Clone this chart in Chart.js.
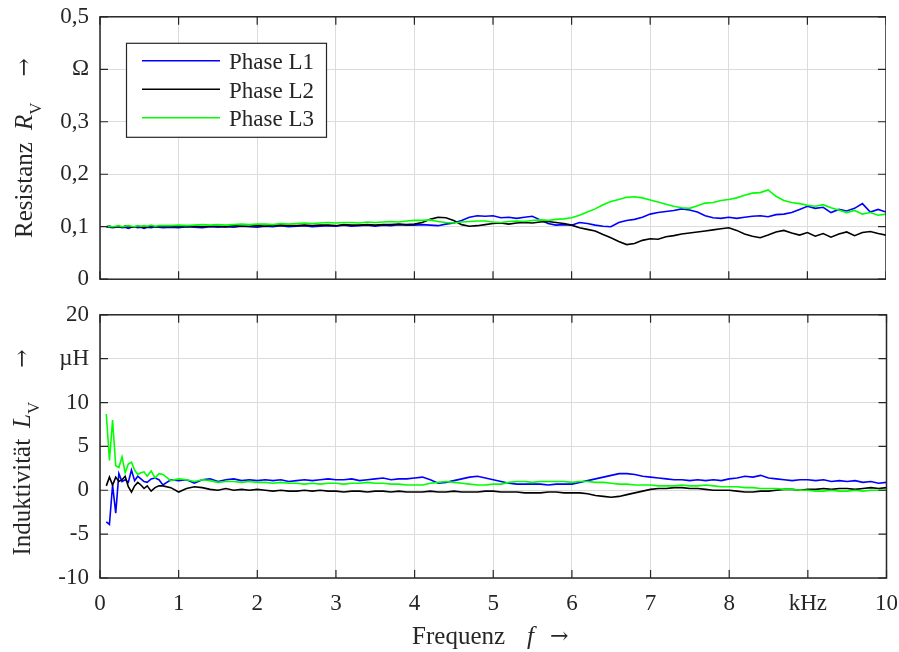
<!DOCTYPE html>
<html>
<head>
<meta charset="utf-8">
<title>Resistanz und Induktivität</title>
<script src="https://cdn.jsdelivr.net/npm/chart.js@4.4.0/dist/chart.umd.min.js"></script>
<style>
  html, body { margin: 0; padding: 0; background: #fff; overflow: hidden; }
  #wrap { position: relative; width: 899px; height: 652px; overflow: hidden; }
  #wrap canvas { position: absolute; left: 0; top: 0; }
</style>
</head>
<body>
<div id="wrap">
  <canvas id="resChart" width="899" height="300"></canvas>
  <canvas id="indChart" width="899" height="352"></canvas>
</div>
<script>
// --- Data ---
const freq = [
  0.08, 0.12, 0.16, 0.2, 0.24, 0.28, 0.32, 0.36, 0.4, 0.44, 0.48, 0.52, 0.56, 0.6, 0.65, 0.7, 0.75, 0.8,
  0.9, 1.0, 1.1, 1.2, 1.3, 1.4, 1.5, 1.6, 1.7, 1.8,
  1.9, 2.0, 2.1, 2.2, 2.3, 2.4, 2.5, 2.6, 2.7, 2.8,
  2.9, 3.0, 3.1, 3.2, 3.3, 3.4, 3.5, 3.6, 3.7, 3.8,
  3.9, 4.0, 4.1, 4.2, 4.3, 4.4, 4.5, 4.6, 4.7, 4.8,
  4.9, 5.0, 5.1, 5.2, 5.3, 5.4, 5.5, 5.6, 5.7, 5.8,
  5.9, 6.0, 6.1, 6.2, 6.3, 6.4, 6.5, 6.6, 6.7, 6.8,
  6.9, 7.0, 7.1, 7.2, 7.3, 7.4, 7.5, 7.6, 7.7, 7.8,
  7.9, 8.0, 8.1, 8.2, 8.3, 8.4, 8.5, 8.6, 8.7, 8.8,
  8.9, 9.0, 9.1, 9.2, 9.3, 9.4, 9.5, 9.6, 9.7, 9.8, 9.9, 10.0
];

// Resistanz R_V in Ohm
const resL1 = [
  0.100, 0.099, 0.098, 0.099, 0.100, 0.098, 0.099, 0.097, 0.099, 0.100, 0.098, 0.099, 0.097, 0.099, 0.098, 0.100, 0.099, 0.098,
  0.099, 0.098, 0.100, 0.099, 0.098, 0.100, 0.099, 0.100, 0.099, 0.101,
  0.100, 0.099, 0.101, 0.100, 0.102, 0.100, 0.101, 0.102, 0.100, 0.101,
  0.102, 0.101, 0.103, 0.101, 0.102, 0.103, 0.101, 0.103, 0.102, 0.104,
  0.103, 0.103, 0.104, 0.103, 0.102, 0.105, 0.107, 0.112, 0.118, 0.121,
  0.120, 0.121, 0.117, 0.118, 0.116, 0.118, 0.120, 0.113, 0.106, 0.103,
  0.104, 0.103, 0.108, 0.106, 0.103, 0.101, 0.100, 0.108, 0.112, 0.114,
  0.118, 0.124, 0.127, 0.129, 0.131, 0.134, 0.132, 0.128, 0.121, 0.117,
  0.116, 0.118, 0.116, 0.118, 0.120, 0.121, 0.119, 0.123, 0.124, 0.127,
  0.133, 0.139, 0.135, 0.137, 0.127, 0.133, 0.130, 0.135, 0.144, 0.128, 0.133, 0.128
];
const resL2 = [
  0.100, 0.101, 0.099, 0.100, 0.100, 0.099, 0.101, 0.100, 0.099, 0.100, 0.101, 0.100, 0.099, 0.100, 0.101, 0.100, 0.100, 0.101,
  0.100, 0.101, 0.100, 0.101, 0.100, 0.101, 0.101, 0.100, 0.102, 0.101,
  0.101, 0.102, 0.101, 0.102, 0.103, 0.102, 0.102, 0.103, 0.102, 0.103,
  0.103, 0.102, 0.104, 0.103, 0.103, 0.104, 0.103, 0.104, 0.104, 0.105,
  0.104, 0.105, 0.108, 0.114, 0.118, 0.117, 0.112, 0.104, 0.101, 0.102,
  0.104, 0.106, 0.107, 0.105, 0.107, 0.108, 0.107, 0.109, 0.110, 0.108,
  0.106, 0.103, 0.098, 0.095, 0.092, 0.085, 0.079, 0.072, 0.066, 0.068,
  0.074, 0.077, 0.076, 0.081, 0.083, 0.086, 0.088, 0.090, 0.092, 0.094,
  0.096, 0.098, 0.093, 0.086, 0.082, 0.079, 0.084, 0.090, 0.093, 0.088,
  0.084, 0.089, 0.082, 0.087, 0.080, 0.086, 0.090, 0.083, 0.089, 0.091, 0.087, 0.084
];
const resL3 = [
  0.100, 0.101, 0.100, 0.101, 0.102, 0.100, 0.101, 0.102, 0.101, 0.100, 0.102, 0.101, 0.102, 0.101, 0.103, 0.101, 0.102, 0.102,
  0.102, 0.103, 0.102, 0.103, 0.104, 0.103, 0.104, 0.103, 0.104, 0.105,
  0.104, 0.105, 0.105, 0.104, 0.106, 0.105, 0.106, 0.107, 0.106, 0.107,
  0.108, 0.107, 0.108, 0.108, 0.107, 0.109, 0.108, 0.109, 0.110, 0.109,
  0.111, 0.112, 0.112, 0.113, 0.110, 0.108, 0.107, 0.109, 0.110, 0.111,
  0.111, 0.109, 0.108, 0.110, 0.111, 0.110, 0.112, 0.113, 0.112, 0.114,
  0.115, 0.117, 0.122, 0.128, 0.134, 0.142, 0.148, 0.152, 0.156, 0.157,
  0.155, 0.151, 0.147, 0.143, 0.139, 0.136, 0.135, 0.140, 0.145, 0.146,
  0.150, 0.152, 0.155, 0.160, 0.164, 0.165, 0.170, 0.158, 0.150, 0.146,
  0.144, 0.141, 0.139, 0.142, 0.136, 0.132, 0.127, 0.131, 0.124, 0.127, 0.122, 0.124
];

// Induktivität L_V in µH
const indL1 = [
  -3.6, -3.9, 0.6, -2.6, 1.9, 1.0, 1.2, 0.9, 2.3, 1.1, 1.6, 1.3, 1.0, 0.9, 1.3, 1.4, 1.2, 0.6,
  1.2, 1.1, 1.2, 0.8, 1.2, 1.3, 1.0, 1.2, 1.3, 1.1,
  1.2, 1.1, 1.2, 1.1, 1.2, 1.0, 1.1, 1.2, 1.1, 1.2,
  1.3, 1.2, 1.2, 1.3, 1.1, 1.2, 1.3, 1.4, 1.2, 1.3,
  1.3, 1.4, 1.5, 1.2, 0.8, 0.9, 1.1, 1.3, 1.5, 1.6,
  1.4, 1.2, 1.0, 0.8, 0.7, 0.7, 0.7, 0.7, 0.6, 0.7,
  0.7, 0.7, 0.9, 1.1, 1.3, 1.5, 1.7, 1.9, 1.9, 1.8,
  1.6, 1.5, 1.4, 1.3, 1.2, 1.2, 1.1, 1.2, 1.1, 1.2,
  1.1, 1.3, 1.4, 1.6, 1.5, 1.7, 1.4, 1.3, 1.2, 1.1,
  1.2, 1.2, 1.1, 1.2, 1.0, 1.1, 1.0, 1.1, 0.9, 1.0, 0.8, 0.9
];
const indL2 = [
  0.5, 1.5, 0.6, 1.5, 1.0, 1.2, 1.6, 0.4, -0.2, 0.5, 0.9, 0.6, 0.2, 0.5, -0.1, 0.3, 0.5, 0.5,
  0.3, -0.2, 0.2, 0.4, 0.3, 0.1, 0.0, 0.2, 0.0, 0.1,
  0.0, 0.1, 0.0, -0.1, 0.0, -0.1, -0.1, 0.0, -0.1, 0.0,
  -0.1, -0.1, -0.2, -0.1, -0.1, -0.2, -0.1, -0.1, -0.2, -0.1,
  -0.2, -0.2, -0.2, -0.1, -0.2, -0.2, -0.1, -0.2, -0.2, -0.2,
  -0.1, -0.1, -0.2, -0.2, -0.2, -0.3, -0.3, -0.3, -0.2, -0.2,
  -0.3, -0.3, -0.3, -0.4, -0.6, -0.7, -0.8, -0.7, -0.5, -0.3,
  -0.1, 0.1, 0.2, 0.2, 0.3, 0.3, 0.2, 0.2, 0.1, 0.0,
  0.0, 0.0, -0.1, -0.2, -0.2, -0.1, -0.1, 0.0, 0.1, 0.1,
  0.0, 0.1, 0.1, 0.2, 0.1, 0.2, 0.2, 0.1, 0.2, 0.3, 0.2, 0.3
];
const indL3 = [
  8.7, 3.4, 8.0, 2.8, 2.6, 3.8, 2.0, 3.0, 3.2, 2.3, 1.8, 2.0, 2.1, 1.6, 2.2, 1.4, 1.9, 1.8,
  1.1, 1.3, 1.2, 1.0, 1.2, 1.1, 0.9, 1.0, 1.0, 0.9,
  1.0, 0.9, 0.9, 0.8, 0.9, 0.8, 0.8, 0.7, 0.8, 0.7,
  0.8, 0.8, 0.7, 0.8, 0.8, 0.9, 0.8, 0.8, 0.7, 0.7,
  0.6, 0.6, 0.6, 0.8, 0.9, 1.0, 0.9, 0.8, 0.7, 0.6,
  0.6, 0.7, 0.7, 0.9, 1.0, 1.0, 0.9, 1.0, 1.0, 1.0,
  1.0, 0.9, 1.0, 1.0, 0.9, 0.9, 0.8, 0.7, 0.7, 0.6,
  0.6, 0.6, 0.5, 0.5, 0.5, 0.6, 0.5, 0.5, 0.6, 0.5,
  0.4, 0.4, 0.4, 0.3, 0.3, 0.2, 0.2, 0.2, 0.1, 0.1,
  0.0, 0.0, -0.1, -0.1, 0.0, -0.1, -0.1, 0.0, -0.1, 0.0, 0.0, 0.0
];

const seriesNames = ['Phase L1', 'Phase L2', 'Phase L3'];
const seriesColors = ['#0000ff', '#000000', '#00ff00'];

const freqTickLabels = ['0', '1', '2', '3', '4', '5', '6', '7', '8', 'kHz', '10'];
const resTickLabels = ['0', '0,1', '0,2', '0,3', 'Ω', '0,5'];
const indTickLabels = ['-10', '-5', '0', '5', '10', 'µH', '20'];

// --- Styling helpers ---
const FONT = "'Liberation Serif', 'Times New Roman', serif";
const ARROW_FONT = "'DejaVu Serif', serif";
const AXIS_COLOR = '#262626';
const GRID_COLOR = '#dcdcdc';

function toPoints(values) {
    return freq.map((f, i) => ({ x: f, y: values[i] }));
}

function makeDatasets(valueSets) {
    return valueSets.map((vals, i) => ({
        label: seriesNames[i],
        data: toPoints(vals),
        borderColor: seriesColors[i],
        borderWidth: 1.6,
        pointRadius: 0,
        fill: false,
        tension: 0,
        order: 3 - i  // L3 drawn on top
    }));
}

// box with inward tick marks on all four sides (MATLAB look)
function drawFrame(chart) {
    const { ctx, chartArea: a, scales } = chart;
    ctx.save();
    ctx.strokeStyle = AXIS_COLOR;
    ctx.lineWidth = 1.2;
    ctx.beginPath();
    scales.x.ticks.forEach(t => {
        const px = scales.x.getPixelForValue(t.value);
        ctx.moveTo(px, a.bottom); ctx.lineTo(px, a.bottom - 8);
        ctx.moveTo(px, a.top); ctx.lineTo(px, a.top + 8);
    });
    scales.y.ticks.forEach(t => {
        const py = scales.y.getPixelForValue(t.value);
        ctx.moveTo(a.left, py); ctx.lineTo(a.left + 8, py);
        ctx.moveTo(a.right, py); ctx.lineTo(a.right - 8, py);
    });
    ctx.stroke();
    ctx.lineWidth = 1.5;
    ctx.strokeRect(a.left, a.top, a.right - a.left, a.bottom - a.top);
    ctx.restore();
}

// rotated title like "Resistanz  R_V  ->"
function drawYTitle(ctx, cx, cy, word, sym, sub, gap1, gap2) {
    const main = `25px ${FONT}`, ital = `italic 25px ${FONT}`, small = `17px ${FONT}`, arrow = `22px ${ARROW_FONT}`;
    ctx.save();
    ctx.translate(cx, cy);
    ctx.rotate(-Math.PI / 2);
    ctx.font = main;
    const w1 = ctx.measureText(word).width;
    ctx.font = arrow;
    const wA = ctx.measureText('→').width;
    ctx.font = ital;
    const w2 = ctx.measureText(sym).width;
    ctx.font = small;
    const w3 = ctx.measureText(sub).width;
    const total = w1 + gap1 + w2 + w3 + gap2 + wA;
    let x = -total / 2;
    ctx.fillStyle = AXIS_COLOR;
    ctx.textBaseline = 'alphabetic';
    ctx.textAlign = 'left';
    ctx.font = main; ctx.fillText(word, x, 0); x += w1 + gap1;
    ctx.font = ital; ctx.fillText(sym, x, 0); x += w2;
    ctx.font = small; ctx.fillText(sub, x, 9); x += w3 + gap2;
    ctx.font = arrow; ctx.fillText('→', x, -1);
    ctx.restore();
}

function drawXTitle(ctx, cx, baseY) {
    const main = `25px ${FONT}`, ital = `italic 25px ${FONT}`, arrow = `22px ${ARROW_FONT}`;
    ctx.save();
    ctx.font = main;
    const w1 = ctx.measureText('Frequenz').width;
    ctx.font = arrow;
    const wA = ctx.measureText('→').width;
    ctx.font = ital;
    const w2 = ctx.measureText('f').width;
    const gap1 = 22, gap2 = 16;
    let x = cx - (w1 + gap1 + w2 + gap2 + wA) / 2;
    ctx.fillStyle = AXIS_COLOR;
    ctx.textBaseline = 'alphabetic';
    ctx.textAlign = 'left';
    ctx.font = main; ctx.fillText('Frequenz', x, baseY); x += w1 + gap1;
    ctx.font = ital; ctx.fillText('f', x, baseY); x += w2 + gap2;
    ctx.font = arrow; ctx.fillText('→', x, baseY - 1);
    ctx.restore();
}

// legend box in the upper left of the top plot
function drawLegend(ctx, a) {
    const bx = a.left + 26, by = a.top + 26;
    ctx.save();
    ctx.fillStyle = '#ffffff';
    ctx.fillRect(bx, by, 200, 94);
    ctx.strokeStyle = AXIS_COLOR;
    ctx.lineWidth = 1.2;
    ctx.strokeRect(bx + 0.5, by + 0.5, 200, 94);
    const rows = [18, 46.5, 75];
    ctx.font = `23px ${FONT}`;
    ctx.textBaseline = 'alphabetic';
    ctx.textAlign = 'left';
    seriesNames.forEach((name, i) => {
        ctx.strokeStyle = seriesColors[i];
        ctx.lineWidth = 1.6;
        ctx.beginPath();
        ctx.moveTo(bx + 16, by + rows[i]);
        ctx.lineTo(bx + 94, by + rows[i]);
        ctx.stroke();
        ctx.fillStyle = AXIS_COLOR;
        ctx.fillText(name, bx + 103, by + rows[i] + 8.5);
    });
    ctx.restore();
}

function makeConfig(valueSets, yMin, yMax, yStep, yLabels, showXLabels, xHeight, decorate) {
    return {
        type: 'line',
        data: { datasets: makeDatasets(valueSets) },
        options: {
            responsive: false,
            maintainAspectRatio: false,
            animation: false,
            events: [],
            layout: { padding: 0 },
            plugins: { legend: { display: false }, tooltip: { enabled: false } },
            scales: {
                x: {
                    type: 'linear',
                    min: 0, max: 10,
                    border: { display: false },
                    grid: { color: GRID_COLOR, lineWidth: 1, drawTicks: false },
                    ticks: {
                        display: showXLabels,
                        stepSize: 1,
                        padding: 12,
                        color: AXIS_COLOR,
                        font: { family: FONT, size: 23 },
                        maxRotation: 0,
                        autoSkip: false,
                        callback: (v, i) => freqTickLabels[i]
                    },
                    afterFit: scale => { if (xHeight) scale.height = xHeight; }
                },
                y: {
                    type: 'linear',
                    min: yMin, max: yMax,
                    border: { display: false },
                    grid: { color: GRID_COLOR, lineWidth: 1, drawTicks: false },
                    ticks: {
                        stepSize: yStep,
                        padding: 11,
                        color: AXIS_COLOR,
                        font: { family: FONT, size: 23 },
                        autoSkip: false,
                        callback: (v, i) => yLabels[i]
                    },
                    afterFit: scale => { scale.width = 100; }
                }
            }
        },
        plugins: [{ id: 'decor', afterDraw: decorate }]
    };
}

// resize the canvas until the plot box has the reference size, then move it into place
function buildChart(canvasId, makeCfg, target) {
    const canvas = document.getElementById(canvasId);
    let chart = new Chart(canvas, makeCfg());
    for (let k = 0; k < 4; k++) {
        const a = chart.chartArea;
        const dw = (target.right - target.left) - (a.right - a.left);
        const dh = (target.bottom - target.top) - (a.bottom - a.top);
        if (Math.abs(dw) < 0.5 && Math.abs(dh) < 0.5) break;
        const w = Math.round(canvas.width + dw), h = Math.round(canvas.height + dh);
        chart.destroy();
        canvas.width = w;
        canvas.height = h;
        canvas.style.width = w + 'px';
        canvas.style.height = h + 'px';
        chart = new Chart(canvas, makeCfg());
    }
    const a = chart.chartArea;
    canvas.style.left = (target.left - a.left) + 'px';
    canvas.style.top = (target.top - a.top) + 'px';
    return chart;
}

// --- Top: Resistanz ---
buildChart('resChart', () => makeConfig([resL1, resL2, resL3], 0, 0.5, 0.1, resTickLabels, false, 0, chart => {
    const a = chart.chartArea;
    drawFrame(chart);
    drawLegend(chart.ctx, a);
    drawYTitle(chart.ctx, a.left - 68, (a.top + a.bottom) / 2, 'Resistanz', 'R', 'V', 12, 26);
}), { left: 100, right: 886, top: 17, bottom: 279 });

// --- Bottom: Induktivität ---
buildChart('indChart', () => makeConfig([indL1, indL2, indL3], -10, 20, 5, indTickLabels, true, 74, chart => {
    const a = chart.chartArea;
    drawFrame(chart);
    drawYTitle(chart.ctx, a.left - 70, (a.top + a.bottom) / 2 + 6, 'Induktivität', 'L', 'V', 11, 34);
    drawXTitle(chart.ctx, (a.left + a.right) / 2 - 3, a.bottom + 66);
}), { left: 100, right: 886, top: 315, bottom: 578 });
</script>
</body>
</html>
